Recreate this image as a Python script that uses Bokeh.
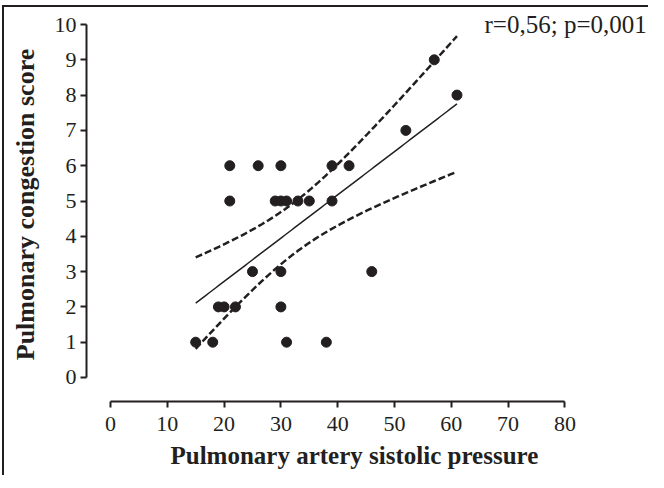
import numpy as np
from bokeh.plotting import figure
from bokeh.models import Range1d, FixedTicker, Label, ColumnDataSource, Title
from bokeh.embed import file_html
from bokeh.resources import INLINE

# ---- data ----
pasp = [15, 18, 31, 38,
        19, 20, 22, 30,
        25, 30, 46,
        21, 29, 30, 31, 33, 35, 39,
        21, 26, 30, 39, 42,
        52, 57, 61]
score = [1, 1, 1, 1,
         2, 2, 2, 2,
         3, 3, 3,
         5, 5, 5, 5, 5, 5, 5,
         6, 6, 6, 6, 6,
         7, 9, 8]
x_ticks = [0, 10, 20, 30, 40, 50, 60, 70, 80]
y_ticks = [0, 1, 2, 3, 4, 5, 6, 7, 8, 9, 10]
stat_text = "r=0,56; p=0,001"
x_title = "Pulmonary artery sistolic pressure"
y_title = "Pulmonary congestion score"

INK = "#231f20"
SERIF = "Liberation Serif"

# ---- linear fit with 95% confidence band ----
x = np.array(pasp, dtype=float)
y = np.array(score, dtype=float)
n = len(x)
slope, intercept = np.polyfit(x, y, 1)
resid = y - (slope * x + intercept)
s = np.sqrt(np.sum(resid ** 2) / (n - 2))
sxx = np.sum((x - x.mean()) ** 2)
t_crit = 2.064  # t(0.975, df=24)
xs = np.linspace(x.min(), x.max(), 80)
fit = slope * xs + intercept
half = t_crit * s * np.sqrt(1.0 / n + (xs - x.mean()) ** 2 / sxx)
band = ColumnDataSource(dict(x=xs, fit=fit, lo=fit - half, hi=fit + half))

p = figure(width=646, height=470, output_backend="svg", toolbar_location=None,
           x_range=Range1d(-4.225, 95.07), y_range=Range1d(-0.68, 10.482),
           min_border_left=82, min_border_right=0, min_border_top=0,
           min_border_bottom=76)
p.styles = {"border-left": "2px solid " + INK, "border-top": "2px solid " + INK,
            "transform": "translate(2px, 5px)"}
p.outline_line_color = None
p.xgrid.visible = False
p.ygrid.visible = False
p.background_fill_color = "white"
p.border_fill_color = "white"

p.line("x", "hi", source=band, line_color=INK, line_width=2.5, line_dash="7 3")
p.line("x", "lo", source=band, line_color=INK, line_width=2.5, line_dash="7 3")
p.line("x", "fit", source=band, line_color=INK, line_width=1.5)
p.scatter(pasp, score, size=10, marker="circle", fill_color=INK, line_color=INK)

for ax, ticks in ((p.xaxis[0], x_ticks), (p.yaxis[0], y_ticks)):
    ax.ticker = FixedTicker(ticks=ticks)
    ax.bounds = (ticks[0], ticks[-1])
    ax.axis_line_color = INK
    ax.axis_line_width = 2
    ax.major_tick_line_color = INK
    ax.major_tick_line_width = 2
    ax.major_tick_out = 6
    ax.major_tick_in = 0
    ax.minor_tick_line_color = None
    ax.major_label_text_font = SERIF
    ax.major_label_text_font_size = "22px"
    ax.major_label_text_color = INK
    ax.axis_label_text_font = SERIF
    ax.axis_label_text_font_style = "bold"
    ax.axis_label_text_color = INK

p.xaxis[0].major_label_standoff = 9
p.yaxis[0].axis_label = y_title
p.yaxis[0].axis_label_text_font_size = "26px"
p.yaxis[0].major_label_standoff = 4
p.yaxis[0].axis_label_standoff = 12

p.add_layout(Title(text=x_title, align="left", offset=84, standoff=12,
                   text_font=SERIF, text_font_style="bold",
                   text_font_size="25px", text_color=INK), "below")

p.add_layout(Label(x=65.85, y=10, text=stat_text, text_font=SERIF,
                   text_font_size="25px", text_color=INK,
                   text_baseline="middle", text_align="left"))

open("out.html", "w").write(file_html(p, INLINE))
